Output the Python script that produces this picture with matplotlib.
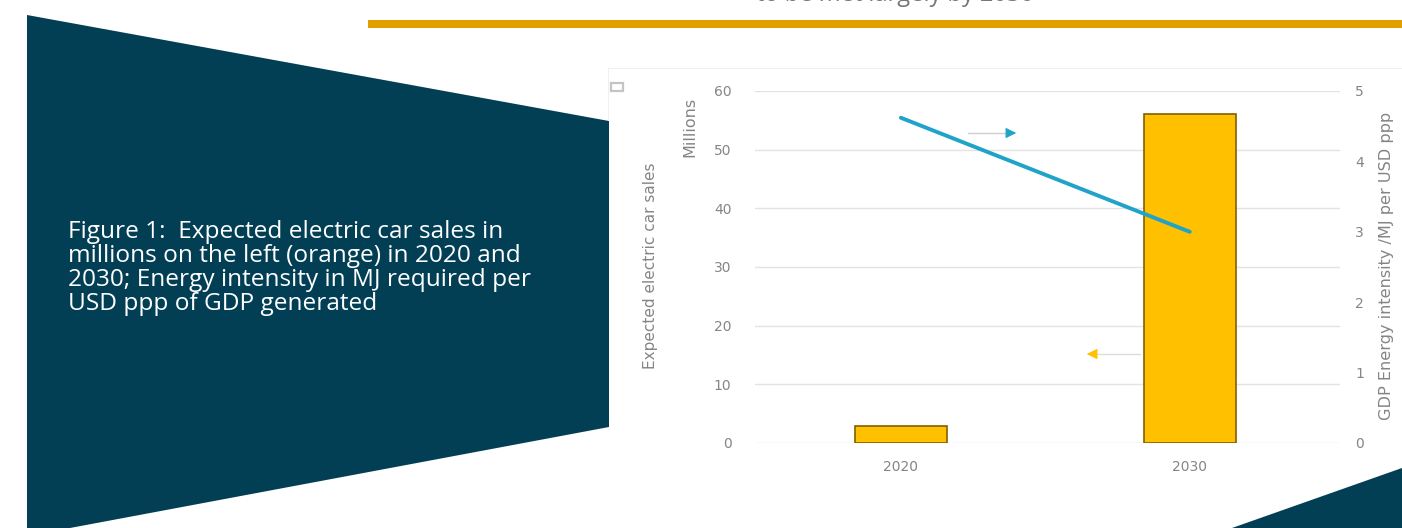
import numpy as np
import matplotlib.pyplot as plt
from matplotlib.patches import Polygon, Rectangle

# data
years = ["2020", "2030"]
car_sales = [2.9, 56.0]          # millions, left axis
energy_intensity = [4.62, 3.0]   # MJ per USD ppp, right axis

caption = ("Figure 1:  Expected electric car sales in\n"
           "millions on the left (orange) in 2020 and\n"
           "2030; Energy intensity in MJ required per\n"
           "USD ppp of GDP generated")

W, H = 1402, 528
fig = plt.figure(figsize=(W / 100, H / 100), dpi=100)

# background layer in pixel coordinates
bg = fig.add_axes([0, 0, 1, 1])
bg.set_xlim(0, W)
bg.set_ylim(H, 0)
bg.axis("off")

navy = "#023F55"
bg.add_patch(Polygon([(27, 15), (609, 121), (609, 427), (70, 528), (27, 528)],
                     closed=True, color=navy, lw=0))
bg.add_patch(Polygon([(1232, 528), (1402, 468), (1402, 528)], closed=True, color=navy, lw=0))
bg.add_patch(Rectangle((368, 20), W - 368, 8, color="#E0A000", lw=0))
bg.plot([608, W], [68, 68], color="#f0f0f0", lw=0.8)
bg.plot([608, 608], [68, 120], color="#f0f0f0", lw=0.8)
bg.add_patch(Rectangle((611, 83), 12, 8, fill=False, ec="#c4c4c4", lw=1.6))

bg.text(68, 220, caption, color="white", fontsize=17.6, family="Open Sans",
        va="top", ha="left", linespacing=1.0)
bg.text(895, 1, "to be met largely by 2030", color="#777777", fontsize=17,
        family="Open Sans", ha="center", va="baseline")

# chart
ax = fig.add_axes([755 / W, 85 / H, 585 / W, 352 / H])
ax2 = ax.twinx()
ax.set_facecolor("none")
ax2.set_facecolor("none")
x = np.arange(len(years))

ax.bar(x, car_sales, width=0.32, color="#FFC000", edgecolor="#806000", lw=1.2, zorder=2)
ax.set_ylim(0, 60)
ax.set_yticks(range(0, 61, 10))
ax.set_xlim(-0.505, 1.52)
ax.set_xticks(x)
ax.set_xticklabels(years)
ax.grid(axis="y", color="#e3e3e3", lw=1, zorder=0)

ax2.plot(x, energy_intensity, color="#1FA3C9", lw=2.8, solid_capstyle="round", zorder=3)
ax2.set_ylim(0, 5)
ax2.set_yticks(range(0, 6))

for a in (ax, ax2):
    for s in a.spines.values():
        s.set_visible(False)
    a.tick_params(length=0, labelsize=10, colors="#858585")
ax.tick_params(axis="y", pad=17)
ax2.tick_params(axis="y", pad=11)
ax.tick_params(axis="x", pad=12)

lab = dict(rotation=90, color="#858585", ha="center", va="center")
bg.text(690, 127, "Millions", fontsize=11.5, **lab)
bg.text(650, 266, "Expected electric car sales", fontsize=11, **lab)
bg.text(1387, 266, "GDP Energy intensity /MJ per USD ppp", fontsize=11.6, **lab)

# direction hints
bg.plot([968, 1010], [133, 133], color="#cfcfcf", lw=1)
bg.annotate("", xy=(1019, 133), xytext=(1004, 133),
            arrowprops=dict(arrowstyle="-|>", color="#1FA3C9", lw=0.8,
                            mutation_scale=16))
bg.plot([1092, 1140], [354, 354], color="#dcdcdc", lw=1)
bg.annotate("", xy=(1084, 354), xytext=(1099, 354),
            arrowprops=dict(arrowstyle="-|>", color="#FFC000", lw=0.8,
                            mutation_scale=16))

fig.savefig("out.png", dpi=100)
